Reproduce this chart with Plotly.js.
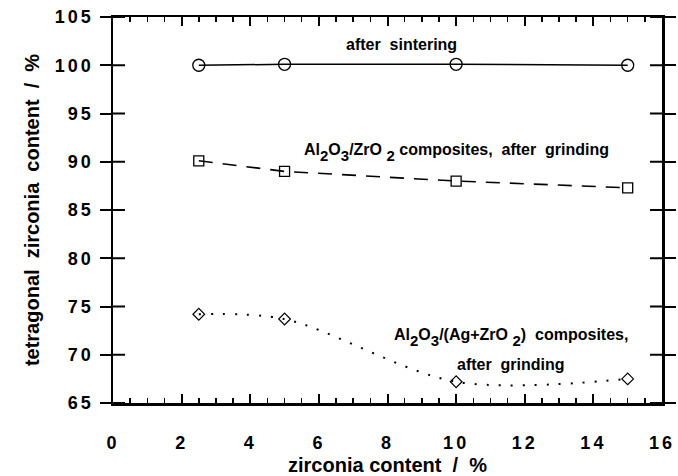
<!DOCTYPE html>
<html>
<head>
<meta charset="utf-8">
<script src="https://cdn.plot.ly/plotly-3.0.1.min.js"></script>
<style>
html,body{margin:0;padding:0;background:#fff;}
#chart{width:678px;height:476px;}
.ytick text, .xtick text {letter-spacing:3px;}
</style>
</head>
<body>
<div id="chart"></div>
<script>
// zirconia content (%)
const zirconia = [2.5, 5, 10, 15];
// tetragonal zirconia content (%)
const afterSintering = [100.0, 100.1, 100.1, 100.0];
const alzrGrinding = [90.1, 89.0, 88.0, 87.3];
const alAgZrGrinding = [74.2, 73.7, 67.2, 67.5];
// y tick values
const yTickVals = [65, 70, 75, 80, 85, 90, 95, 100, 105];

const S = s => '<sub><sub><span style="font-size:15px">' + s + '</span></sub></sub>';
const labelSintering = 'after  sintering';
const labelAlZr = 'Al' + S('2') + 'O' + S('3') + '/ZrO ' + S('2') + ' composites,  after  grinding';
const labelAlAgZr1 = 'Al' + S('2') + 'O' + S('3') + '/(Ag+ZrO ' + S('2') + ')  composites,';
const labelAlAgZr2 = 'after  grinding';

const fontFam = 'Liberation Sans, Arial, Helvetica, sans-serif';
const annFont = {size: 16, family: fontFam, weight: 'bold'};

const traces = [
  {x: zirconia, y: afterSintering, mode: 'lines+markers', type: 'scatter',
   line: {color: '#000', width: 1.5},
   marker: {symbol: 'circle-open', size: 12, color: '#000', line: {width: 1.3}}},
  {x: zirconia, y: alzrGrinding, mode: 'lines+markers', type: 'scatter',
   line: {color: '#000', width: 1.6, dash: '14px,10px'},
   marker: {symbol: 'square-open', size: 10, color: '#000', line: {width: 1.3}}},
  {x: zirconia, y: alAgZrGrinding, mode: 'lines+markers', type: 'scatter',
   line: {color: '#000', width: 2, dash: '2px,10px', shape: 'spline', smoothing: 0.9},
   marker: {symbol: 'diamond-open', size: 9, color: '#000', line: {width: 1.2}}}
];

// inward halves of the crossing y ticks (left and right frame), in axis-domain units
const W = 678 - 113 - 16;
const inLen = 12 / W;
const tickShapes = [];
yTickVals.forEach(v => {
  tickShapes.push({type: 'line', xref: 'x domain', yref: 'y', x0: 0, x1: inLen, y0: v, y1: v,
                   line: {color: '#000', width: 2}});
  tickShapes.push({type: 'line', xref: 'x domain', yref: 'y', x0: 1 - inLen, x1: 1, y0: v, y1: v,
                   line: {color: '#000', width: 2}});
});

const layout = {
  width: 678, height: 476,
  margin: {l: 113, r: 16, t: 17, b: 73},
  paper_bgcolor: '#fff', plot_bgcolor: '#fff',
  showlegend: false,
  font: {family: fontFam, color: '#000'},
  xaxis: {
    range: [0, 16], dtick: 2, tick0: 0,
    showgrid: false, zeroline: false,
    showline: true, linecolor: '#000', linewidth: 2.5,
    mirror: 'ticks', ticks: 'inside', ticklen: 9, tickwidth: 2, tickcolor: '#000',
    minor: {dtick: 0.5, ticks: 'inside', ticklen: 5, tickwidth: 1.5, tickcolor: '#000', showgrid: false},
    tickfont: {size: 18, family: fontFam, weight: 'bold'},
    ticklabelstandoff: 22,
    title: {text: 'zirconia content  /  %', font: {size: 20, family: fontFam, weight: 'bold'}, standoff: 6}
  },
  yaxis: {
    range: [65, 105], tickmode: 'array', tickvals: yTickVals,
    showgrid: false, zeroline: false,
    showline: true, linecolor: '#000', linewidth: 2.5,
    mirror: 'ticks', ticks: 'outside', ticklen: 11, tickwidth: 2, tickcolor: '#000',
    tickfont: {size: 18, family: fontFam, weight: 'bold'},
    ticklabelstandoff: 2,
    title: {text: 'tetragonal  zirconia  content  /  %', font: {size: 20, family: fontFam, weight: 'bold'}, standoff: 10}
  },
  shapes: tickShapes,
  annotations: [
    {x: 8.4, y: 102.1, xref: 'x', yref: 'y', text: labelSintering, showarrow: false, font: annFont},
    {x: 5.5, y: 91.0, xref: 'x', yref: 'y', xanchor: 'left', text: labelAlZr, showarrow: false, font: annFont},
    {x: 11.6, y: 71.8, xref: 'x', yref: 'y', text: labelAlAgZr1, showarrow: false, font: annFont},
    {x: 11.6, y: 69.0, xref: 'x', yref: 'y', text: labelAlAgZr2, showarrow: false, font: annFont}
  ]
};

Plotly.newPlot('chart', traces, layout, {displayModeBar: false, staticPlot: true});
</script>
</body>
</html>
